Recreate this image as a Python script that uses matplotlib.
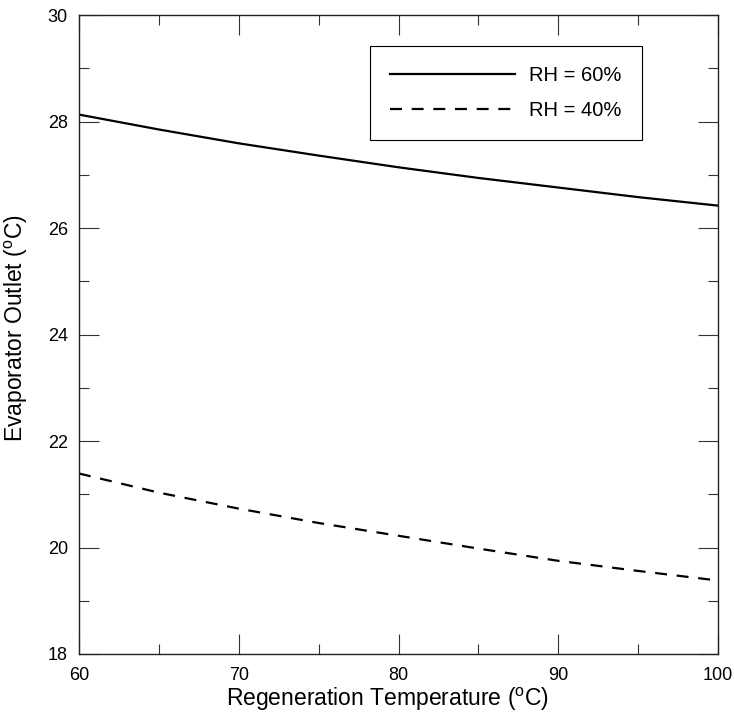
import matplotlib
matplotlib.use("Agg")
import matplotlib.pyplot as plt
from matplotlib.ticker import MultipleLocator

plt.rcParams["font.family"] = ["Liberation Sans", "DejaVu Sans"]
plt.rcParams["mathtext.fontset"] = "custom"
plt.rcParams["mathtext.rm"] = "Liberation Sans"
plt.rcParams["lines.scale_dashes"] = False

# Regeneration temperature (C)
regen_temp = [60, 65, 70, 75, 80, 85, 90, 95, 100]
# Evaporator outlet temperature (C)
outlet_rh60 = [28.13, 27.85, 27.59, 27.36, 27.14, 26.94, 26.76, 26.58, 26.42]
outlet_rh40 = [21.39, 21.03, 20.73, 20.46, 20.22, 19.98, 19.75, 19.56, 19.38]

fig = plt.figure(figsize=(7.34, 7.13), dpi=100)
ax = fig.add_axes([79 / 734, 1 - 654 / 713, 639 / 734, 639 / 713])

ax.plot(regen_temp, outlet_rh60, color="black", linewidth=1.6, label="RH = 60%")
ax.plot(regen_temp, outlet_rh40, color="black", linewidth=1.6,
        linestyle=(0, (8.6, 7.0)), label="RH = 40%")

ax.set_xlim(60, 100)
ax.set_ylim(18, 30)
ax.xaxis.set_major_locator(MultipleLocator(10))
ax.xaxis.set_minor_locator(MultipleLocator(5))
ax.yaxis.set_major_locator(MultipleLocator(2))
ax.yaxis.set_minor_locator(MultipleLocator(1))

ax.tick_params(which="both", direction="in", top=True, right=True,
               width=0.8, color="#333333", labelsize=13)
ax.tick_params(which="major", length=14.5)
ax.tick_params(which="minor", length=7.5)
ax.tick_params(axis="x", which="major", pad=9)
ax.tick_params(axis="y", which="major", pad=8)

for sp in ax.spines.values():
    sp.set_linewidth(1.0)
    sp.set_color("#222222")

ax.set_xlabel(r"Regeneration Temperature ($^{\mathrm{o}}$C)", fontsize=16.5)
ax.set_ylabel(r"Evaporator Outlet ($^{\mathrm{o}}$C)", fontsize=16.5)
ax.xaxis.set_label_coords(0.483, -0.050)
ax.yaxis.set_label_coords(-0.077, 0.51)

leg = ax.legend(loc="upper right", bbox_to_anchor=(0.881, 0.951),
                borderaxespad=0, fontsize=14.5, frameon=True, fancybox=False,
                framealpha=1, edgecolor="black", handlelength=6.2,
                handletextpad=0.7, labelspacing=0.75, borderpad=1.0)
leg.get_frame().set_linewidth(0.8)

fig.savefig("out.png", dpi=100)
